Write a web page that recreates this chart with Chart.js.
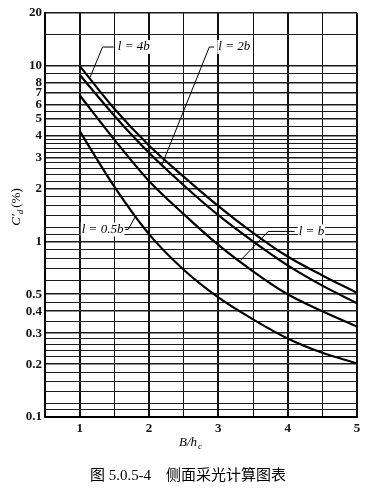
<!DOCTYPE html>
<html>
<head>
<meta charset="utf-8">
<script src="https://cdn.jsdelivr.net/npm/chart.js@4.4.1/dist/chart.umd.min.js"></script>
<style>
  html, body { margin: 0; padding: 0; background: #fff; }
  #wrap { width: 374px; height: 495px; }
</style>
</head>
<body>
<div id="wrap"><canvas id="chart" width="374" height="495"></canvas></div>
<script>
// B/hc values where the curves were read
const ratios = [1, 1.5, 2, 2.5, 3, 3.5, 4, 4.5, 5];

// C'd (%), one array per curve
const curve4b = [10, 5.7, 3.52, 2.34, 1.59, 1.12, 0.82, 0.64, 0.51];
const curve2b = [8.9, 5.2, 3.2, 2.09, 1.41, 1.0, 0.73, 0.56, 0.445];
const curveB = [6.8, 3.8, 2.21, 1.43, 0.955, 0.676, 0.5, 0.4, 0.327];
const curveHalfB = [4.25, 2.05, 1.1, 0.69, 0.48, 0.36, 0.28, 0.232, 0.202];

// axis ticks / grid
const xGrid = [0.5, 1, 1.5, 2, 2.5, 3, 3.5, 4, 4.5, 5];
const xLabels = [1, 2, 3, 4, 5];
const yGrid = [
  20, 15, 10, 9, 8, 7, 6, 5.5, 5, 4.5, 4, 3.8, 3.6, 3.4, 3.2, 3, 2.8, 2.6, 2.4, 2.2,
  2, 1.8, 1.6, 1.4, 1.2, 1.1, 1, 0.9, 0.8, 0.7, 0.6, 0.5, 0.45, 0.4, 0.35, 0.3,
  0.28, 0.26, 0.24, 0.22, 0.2, 0.18, 0.16, 0.14, 0.12, 0.11, 0.1,
];
const yLabels = [20, 10, 8, 7, 6, 5, 4, 3, 2, 1, 0.5, 0.4, 0.3, 0.2, 0.1];

// curve names with their leader lines (data coords)
const curveNames = ["l = 4b", "l = 2b", "l = b", "l = 0.5b"];
const nameAt = [[1.55, 12.8], [3.0, 12.8], [4.16, 1.14], [1.03, 1.17]];
const leaders = [
  [[1.49, 12.8], [1.33, 12.8], [1.15, 8.6]],
  [[2.94, 12.8], [2.87, 12.8], [2.19, 2.75]],
  [[4.1, 1.14], [3.72, 1.14], [3.32, 0.78]],
  [[1.66, 1.17], [1.7, 1.17], [1.8, 1.38]],
];

const serif = "'Liberation Serif', 'Times New Roman', serif";

function series(ys) {
  return ratios.map((x, i) => ({ x, y: ys[i] }));
}

function curveDataset(ys) {
  return {
    data: series(ys),
    borderColor: "#000",
    borderWidth: 2.2,
    pointRadius: 0,
    cubicInterpolationMode: "monotone",
    fill: false,
  };
}

// text, leaders and captions
const annotate = {
  id: "annotate",
  afterDraw(chart) {
    const { ctx, scales } = chart;
    const xs = scales.x, ys = scales.y;
    ctx.save();
    ctx.fillStyle = "#000";
    ctx.strokeStyle = "#000";

    // leader lines
    ctx.lineWidth = 1;
    leaders.forEach((pts) => {
      ctx.beginPath();
      pts.forEach(([x, y], i) => {
        const px = xs.getPixelForValue(x), py = ys.getPixelForValue(y);
        if (i === 0) ctx.moveTo(px, py);
        else ctx.lineTo(px, py);
      });
      ctx.stroke();
    });

    // curve names
    ctx.font = "italic 13px " + serif;
    ctx.textBaseline = "middle";
    ctx.textAlign = "left";
    curveNames.forEach((t, i) => {
      const [x, y] = nameAt[i];
      const px = xs.getPixelForValue(x), py = ys.getPixelForValue(y);
      ctx.fillStyle = "#fff";
      ctx.fillRect(px - 1, py - 7, ctx.measureText(t).width + 2, 14);
      ctx.fillStyle = "#000";
      ctx.fillText(t, px, py);
    });

    // x title B/hc
    const midX = 190;
    ctx.font = "italic 13px " + serif;
    const main = "B/h";
    const w1 = ctx.measureText(main).width;
    ctx.font = "italic 9px " + serif;
    const w2 = ctx.measureText("c").width;
    let sx = midX - (w1 + w2) / 2;
    ctx.font = "italic 13px " + serif;
    ctx.fillText(main, sx, 443);
    ctx.font = "italic 9px " + serif;
    ctx.fillText("c", sx + w1 + 1, 447);

    // y title C'd(%)
    ctx.save();
    ctx.translate(17, 207);
    ctx.rotate(-Math.PI / 2);
    ctx.font = "italic 13px " + serif;
    const a = "C′";
    const wa = ctx.measureText(a).width;
    ctx.font = "italic 9px " + serif;
    const wb = ctx.measureText("d").width;
    ctx.font = "13px " + serif;
    const c = "(%)";
    const wc = ctx.measureText(c).width;
    let tx = -(wa + wb + wc + 2) / 2;
    ctx.font = "italic 13px " + serif;
    ctx.fillText(a, tx, 0);
    ctx.font = "italic 9px " + serif;
    ctx.fillText("d", tx + wa, 4);
    ctx.font = "13px " + serif;
    ctx.fillText(c, tx + wa + wb + 2, 0);
    ctx.restore();

    // caption
    ctx.font = "15px " + serif + ", 'Noto Sans CJK SC'";
    ctx.textAlign = "center";
    ctx.fillText("图 5.0.5-4    侧面采光计算图表", 188, 476);
    ctx.restore();
  },
};

new Chart(document.getElementById("chart"), {
  type: "line",
  data: {
    datasets: [curveDataset(curve4b), curveDataset(curve2b), curveDataset(curveB), curveDataset(curveHalfB)],
  },
  options: {
    responsive: false,
    animation: false,
    layout: { padding: { left: 0, top: 13, right: 17, bottom: 58 } },
    plugins: { legend: { display: false }, tooltip: { enabled: false } },
    scales: {
      x: {
        type: "linear",
        min: 0.5,
        max: 5,
        afterBuildTicks: (s) => { s.ticks = xGrid.map((v) => ({ value: v })); },
        afterFit: (s) => { s.height = 20; },
        ticks: {
          autoSkip: false,
          maxRotation: 0,
          padding: 4,
          color: "#111",
          font: { family: serif, size: 13, weight: "bold" },
          callback: (v) => (xLabels.includes(v) ? String(v) : ""),
        },
        grid: {
          color: "#111",
          lineWidth: (c) => (xLabels.includes(c.tick && c.tick.value) ? 2 : 1),
          drawTicks: false,
        },
        border: { color: "#000", width: 2 },
      },
      y: {
        type: "logarithmic",
        min: 0.1,
        max: 20,
        afterBuildTicks: (s) => { s.ticks = yGrid.map((v) => ({ value: v })); },
        afterFit: (s) => { s.width = 45; },
        ticks: {
          autoSkip: false,
          padding: 3,
          color: "#111",
          font: { family: serif, size: 13, weight: "bold" },
          callback: (v) => (yLabels.includes(v) ? String(v) : ""),
        },
        grid: {
          color: "#1a1a1a",
          lineWidth: (c) => (yLabels.includes(c.tick && c.tick.value) ? 1.6 : 1),
          drawTicks: false,
        },
        border: { color: "#000", width: 2 },
      },
    },
  },
  plugins: [annotate],
});
</script>
</body>
</html>
